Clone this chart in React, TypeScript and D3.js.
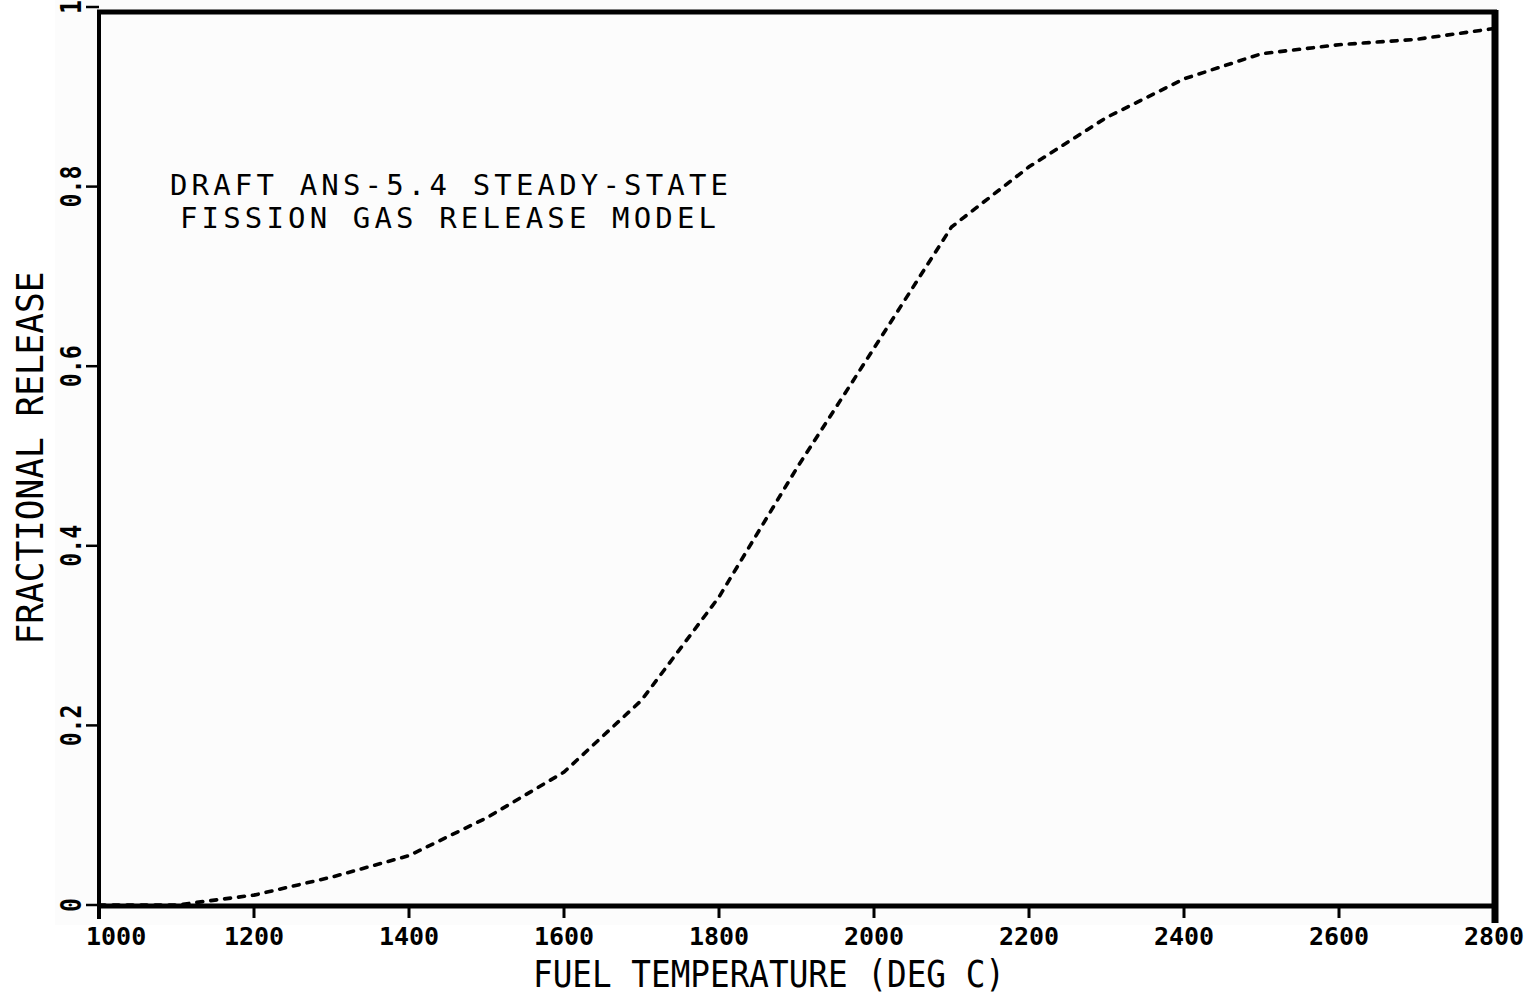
import React from "react";
import * as d3 from "d3";

const temps = [1000, 1100, 1200, 1300, 1400, 1500, 1600, 1700, 1800, 1900, 2000, 2100, 2200, 2300, 2400, 2500, 2600, 2700, 2800];
const release = [0, 0, 0.011, 0.031, 0.055, 0.097, 0.148, 0.228, 0.343, 0.486, 0.62, 0.755, 0.822, 0.877, 0.92, 0.948, 0.958, 0.964, 0.976];
const xTicks = [1000, 1200, 1400, 1600, 1800, 2000, 2200, 2400, 2600, 2800];
const yTicks = [0, 0.2, 0.4, 0.6, 0.8, 1];
const yTickLabels = ["0", "0.2", "0.4", "0.6", "0.8", "1"];
const titleLines = ["DRAFT ANS-5.4 STEADY-STATE", "FISSION GAS RELEASE MODEL"];
const xTitle = "FUEL TEMPERATURE (DEG C)";
const yTitle = "FRACTIONAL RELEASE";

const W = 1530;
const H = 999;
const FONT = "'DejaVu Sans Mono', monospace";

export default function App() {
  const x = d3.scaleLinear().domain([1000, 2800]).range([99, 1494]);
  const y = d3.scaleLinear().domain([0, 1]).range([905, 7]);
  const data = temps.map((t, i) => [t, release[i]] as [number, number]);
  const line = d3
    .line<[number, number]>()
    .x((d) => x(d[0]))
    .y((d) => y(d[1]))
    .curve(d3.curveLinear);

  const left = x(1000);
  const right = x(2800);
  const bottom = y(0);
  const top = 12;

  return (
    <svg
      width={W}
      height={H}
      style={{ position: "absolute", left: 0, top: 0, background: "#ffffff" }}
    >
      <rect x={55} y={0} width={1445} height={925} fill="#fcfcfc" />
      {/* frame */}
      <line x1={left - 2} x2={right + 3} y1={top} y2={top} stroke="#000" strokeWidth={5} />
      <line x1={left} x2={left} y1={top - 2} y2={bottom + 14} stroke="#000" strokeWidth={4} />
      <line x1={right + 1} x2={right + 1} y1={top - 2} y2={bottom + 18} stroke="#000" strokeWidth={7} />
      <line x1={left - 2} x2={right + 4} y1={bottom + 1} y2={bottom + 1} stroke="#000" strokeWidth={5} />

      {/* x ticks */}
      {xTicks.map((t) => (
        <line key={"xt" + t} x1={x(t)} x2={x(t)} y1={bottom} y2={bottom + 13} stroke="#000" strokeWidth={3} />
      ))}
      {xTicks.map((t, i) => (
        <text
          key={"xl" + t}
          x={i === 0 ? x(t) - 13 : x(t)}
          y={945}
          textAnchor={i === 0 ? "start" : "middle"}
          fontFamily={FONT}
          fontSize={25}
          fontWeight="bold"
          fill="#000"
        >
          {t}
        </text>
      ))}

      {/* y ticks */}
      {yTicks.map((t) => (
        <line key={"yt" + t} x1={86} x2={left} y1={y(t)} y2={y(t)} stroke="#000" strokeWidth={2.5} />
      ))}
      {yTicks.map((t, i) => (
        <text
          key={"yl" + t}
          transform={`translate(81,${y(t)}) rotate(-90) scale(0.8,1)`}
          textAnchor="middle"
          fontFamily={FONT}
          fontSize={29}
          fontWeight="bold"
          fill="#000"
        >
          {yTickLabels[i]}
        </text>
      ))}

      {/* curve */}
      <path
        d={line(data) || ""}
        fill="none"
        stroke="#000"
        strokeWidth={3.6}
        strokeDasharray="6 8"
        strokeLinecap="round"
      />

      {/* annotation title */}
      {titleLines.map((s, i) => (
        <text
          key={"tl" + i}
          x={i === 0 ? 170 : 180}
          y={i === 0 ? 195 : 228}
          fontFamily={FONT}
          fontSize={29}
          fill="#000"
          textLength={i === 0 ? 558 : 536}
          lengthAdjust="spacing"
        >
          {s}
        </text>
      ))}

      {/* axis titles */}
      <text
        x={769}
        y={987}
        textAnchor="middle"
        fontFamily={FONT}
        fontSize={37}
        fill="#000"
        textLength={472}
        lengthAdjust="spacingAndGlyphs"
      >
        {xTitle}
      </text>
      <text
        transform={`translate(43,458) rotate(-90)`}
        textAnchor="middle"
        fontFamily={FONT}
        fontSize={37}
        fill="#000"
        textLength={373}
        lengthAdjust="spacingAndGlyphs"
      >
        {yTitle}
      </text>
    </svg>
  );
}
